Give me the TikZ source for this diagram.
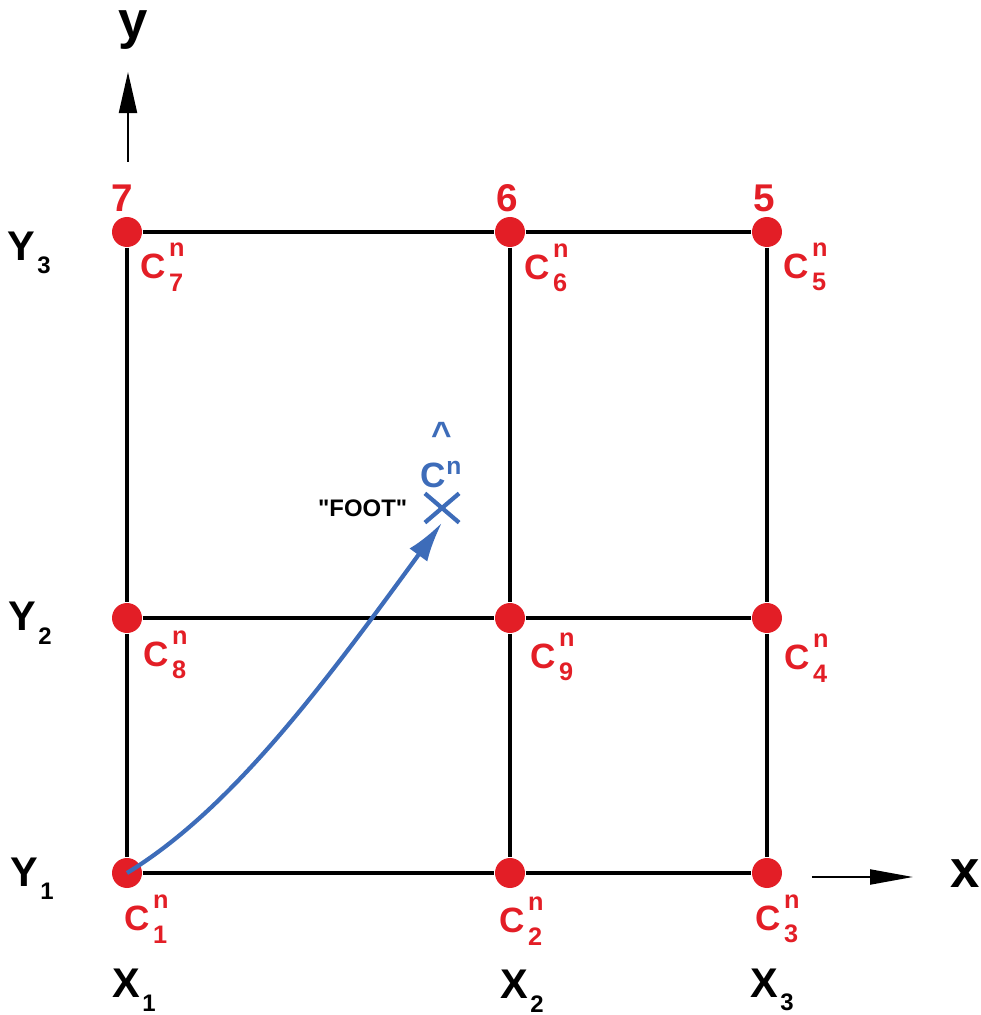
\documentclass[tikz,border=0pt]{standalone}
\usepackage{fontspec}
\setmainfont{Liberation Sans}
\usepackage{tikz}
\usetikzlibrary{positioning, arrows.meta, shapes.misc}
\usepackage{xcolor}
\definecolor{meshred}{HTML}{E31E26}
\definecolor{footblue}{HTML}{3D6CB9}

% C^n_i with stacked scripts, and X_i / Y_i
\newcommand{\cnlab}[1]{C\kern0.8pt\rlap{\raisebox{6.2pt}{\fontsize{7.2}{8}\selectfont n}}\raisebox{-3.6pt}{\fontsize{7.2}{8}\selectfont #1}}
\newcommand{\sublab}[2]{#1\kern0.6pt\raisebox{-3.7pt}{\fontsize{6.8}{7}\selectfont #2}}

\begin{document}
\begin{tikzpicture}[font=\bfseries,
  gridpt/.style={circle, fill=meshred, minimum size=3mm, inner sep=0pt},
  clabel/.style={text=meshred, font=\fontsize{10}{11}\selectfont\bfseries, inner sep=0pt},
  ptnum/.style={text=meshred, font=\fontsize{11}{12}\selectfont\bfseries, inner sep=0pt, anchor=base},
  coordlab/.style={font=\fontsize{11.8}{13}\selectfont\bfseries, inner sep=0pt, anchor=base west},
  axislab/.style={font=\fontsize{15}{16}\selectfont\bfseries, inner sep=0pt, anchor=base},
  gridline/.style={line width=1.1pt},
  axisline/.style={line width=0.6pt}]

\useasboundingbox (0,0) rectangle (9.81,10.15);

% Grid points
\node[gridpt] (c1) at (1.27,1.42) {};
\node[gridpt] (c2) at (5.10,1.42) {};
\node[gridpt] (c3) at (7.67,1.42) {};
\node[gridpt] (c4) at (7.67,3.97) {};
\node[gridpt] (c5) at (7.67,7.83) {};
\node[gridpt] (c6) at (5.10,7.83) {};
\node[gridpt] (c7) at (1.27,7.83) {};
\node[gridpt] (c8) at (1.27,3.97) {};
\node[gridpt] (c9) at (5.10,3.97) {};

% Grid lines
\draw[gridline] (c7) -- (c6) -- (c5);
\draw[gridline] (c8) -- (c9) -- (c4);
\draw[gridline] (c1) -- (c2) -- (c3);
\draw[gridline] (c7) -- (c8) -- (c1);
\draw[gridline] (c6) -- (c9) -- (c2);
\draw[gridline] (c5) -- (c4) -- (c3);

% Point labels
\node[clabel] (l7) at ([shift={(0.35,-0.35)}]c7) {\cnlab{7}};
\node[clabel] (l6) at ([shift={(0.36,-0.36)}]c6) {\cnlab{6}};
\node[clabel] (l5) at ([shift={(0.38,-0.35)}]c5) {\cnlab{5}};
\node[clabel] (l8) at ([shift={(0.38,-0.37)}]c8) {\cnlab{8}};
\node[clabel] (l9) at ([shift={(0.42,-0.39)}]c9) {\cnlab{9}};
\node[clabel] (l4) at ([shift={(0.39,-0.40)}]c4) {\cnlab{4}};
\node[clabel] (l1) at ([shift={(0.19,-0.46)}]c1) {\cnlab{1}};
\node[clabel] (l2) at ([shift={(0.11,-0.48)}]c2) {\cnlab{2}};
\node[clabel] (l3) at ([shift={(0.10,-0.46)}]c3) {\cnlab{3}};

% Node numbers
\node[ptnum] (n7) at (1.22,8.03) {7};
\node[ptnum] (n6) at (5.07,8.03) {6};
\node[ptnum] (n5) at (7.64,8.03) {5};

% Coordinate labels
\node[coordlab] (ylab3) at (0.07,7.55) {\sublab{Y}{3}};
\node[coordlab] (ylab2) at (0.08,3.84) {\sublab{Y}{2}};
\node[coordlab] (ylab1) at (0.10,1.29) {\sublab{Y}{1}};
\node[coordlab] (xlab1) at (1.12,0.17) {\sublab{X}{1}};
\node[coordlab] (xlab2) at (5.00,0.16) {\sublab{X}{2}};
\node[coordlab] (xlab3) at (7.50,0.18) {\sublab{X}{3}};

% Axes
\coordinate (ytail) at (1.28,8.53);
\coordinate (ytip) at (1.28,9.43);
\coordinate (xtail) at (8.12,1.38);
\coordinate (xtip) at (9.13,1.38);
\draw[axisline, -{Triangle[length=4.1mm, width=1.8mm]}] (ytail) -- (ytip);
\draw[axisline, -{Triangle[length=4.3mm, width=1.5mm]}] (xtail) -- (xtip);
\node[axislab] (ylab) at (1.33,9.76) {y};
\node[axislab] (xlab) at (9.65,1.27) {x};

% Foot point
\node[cross out, draw=footblue, line width=1.2pt, minimum width=0.30cm, minimum height=0.25cm, inner sep=0pt] (foot) at (4.42,5.07) {};
\node[text=footblue, font=\fontsize{10}{10}\selectfont\bfseries, align=center, inner sep=0pt, above=0.05cm of foot] (chat) {\textasciicircum\\[1.5pt]C\textsuperscript{n}};
\node[font=\fontsize{6.8}{7}\selectfont\bfseries, inner sep=0pt, left=0.17cm of foot] (footlab) {\textquotedbl FOOT\textquotedbl};

\draw[footblue, line width=1.2pt, -{Latex[length=4mm, width=2.2mm]}] (c1.center) .. controls (2.30,2.05) and (3.20,3.25) .. (foot.south);

\end{tikzpicture}
\end{document}
